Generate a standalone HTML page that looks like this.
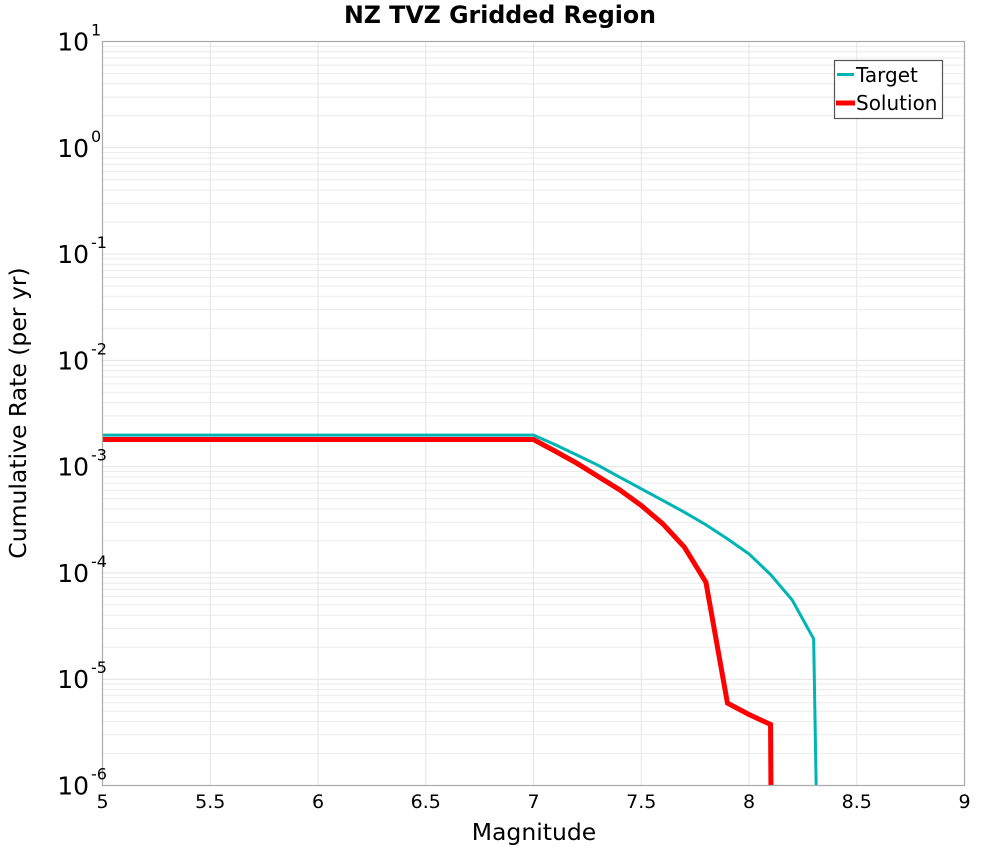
<!DOCTYPE html>
<html><head><meta charset="utf-8"><style>
html,body{margin:0;padding:0;background:#fff;overflow:hidden;width:1000px;height:850px;}
svg{display:block;}
svg text{font-family:"DejaVu Sans","Liberation Sans",sans-serif;}
</style></head><body>
<svg id="chart" width="1000" height="850" xmlns="http://www.w3.org/2000/svg">
<rect width="1000" height="850" fill="#fff"/>
<g id="grid"></g>
<g id="series"></g>
<rect x="102.5" y="41.5" width="862" height="744" fill="none" stroke="#aaa" stroke-width="1.2"/>
<g id="ticks"></g>
<text x="500" y="23" text-anchor="middle" font-size="23.7" font-weight="bold">NZ TVZ Gridded Region</text>
<text x="534" y="840" text-anchor="middle" font-size="23.5">Magnitude</text>
<text transform="translate(26,413) rotate(-90)" text-anchor="middle" font-size="23.5">Cumulative Rate (per yr)</text>
<g>
<rect x="834.5" y="60.5" width="108" height="58" fill="#fff" stroke="#555" stroke-width="1.2"/>
<line x1="837" y1="74.5" x2="854" y2="74.5" stroke="#00b4b4" stroke-width="3"/>
<text x="856" y="82" font-size="20">Target</text>
<line x1="836" y1="103" x2="855" y2="103" stroke="#ff0000" stroke-width="5"/>
<text x="856" y="110" font-size="20">Solution</text>
</g>
</svg>
<script>
const xTicks = [5,5.5,6,6.5,7,7.5,8,8.5,9];
const yExps = [1,0,-1,-2,-3,-4,-5,-6];
const targetMag = [5.0,7.0,7.1,7.2,7.3,7.4,7.5,7.6,7.7,7.8,7.9,8.0,8.1,8.2,8.3,8.32];
const targetRate = [1.98e-3,1.98e-3,1.61e-3,1.29e-3,1.03e-3,7.96e-4,6.19e-4,4.81e-4,3.73e-4,2.84e-4,2.09e-4,1.51e-4,9.67e-5,5.58e-5,2.40e-5,1e-7];
const solutionMag = [5.0,7.0,7.1,7.2,7.3,7.4,7.5,7.6,7.7,7.8,7.9,8.0,8.1,8.108];
const solutionRate = [1.80e-3,1.80e-3,1.40e-3,1.08e-3,8.08e-4,6.05e-4,4.31e-4,2.90e-4,1.75e-4,8.18e-5,5.96e-6,4.66e-6,3.75e-6,1e-8];

const NS='http://www.w3.org/2000/svg';
const X0=102.5,X1=964.5,Y0=41.5,Y1=785.5;
const xs=m=>X0+(m-5)/4*(X1-X0);
const ys=v=>Y0+(1-Math.log10(v))/7*(Y1-Y0);
function mk(tag,attrs,parent){const e=document.createElementNS(NS,tag);for(const k in attrs)e.setAttribute(k,attrs[k]);parent.appendChild(e);return e;}
const grid=document.getElementById('grid'),ticks=document.getElementById('ticks'),series=document.getElementById('series');
for(let e=-6;e<1;e++){for(let k=2;k<=9;k++){const y=ys(k*Math.pow(10,e));
const l=mk('line',{x1:X0,x2:X1,y1:y,y2:y,stroke:'#ececec','stroke-width':1},grid);

}}
yExps.forEach(e=>{const y=ys(Math.pow(10,e));
const l=mk('line',{x1:X0,x2:X1,y1:y,y2:y,stroke:'#e2e2e2','stroke-width':1},grid);


const t=mk('text',{x:89,y:y+9,'text-anchor':'end','font-size':25},ticks);


t.textContent='10';
const s=mk('text',{x:91,y:y-6,'font-size':16},ticks);


s.textContent=String(e);});
xTicks.forEach(m=>{const x=xs(m);
const l=mk('line',{x1:x,x2:x,y1:Y0,y2:Y1,stroke:'#e6e6e6','stroke-width':1},grid);


const t=mk('text',{x:x,y:808,'text-anchor':'middle','font-size':19},ticks);


t.textContent=String(m);});
const cp=mk('clipPath',{id:'pc'},series);
mk('rect',{x:X0,y:Y0,width:X1-X0,height:Y1-Y0},cp);
function line(mags,rates,color,w,name){
const p=mk('polyline',{points:mags.map((m,i)=>xs(m)+','+ys(rates[i])).join(' '),fill:'none',stroke:color,'stroke-width':w,'stroke-linejoin':'miter','clip-path':'url(#pc)'},series);

}
line(targetMag,targetRate,'#00b4b4',3,'target-line');
line(solutionMag,solutionRate,'#ff0000',5,'solution-line');
</script>
</body></html>
